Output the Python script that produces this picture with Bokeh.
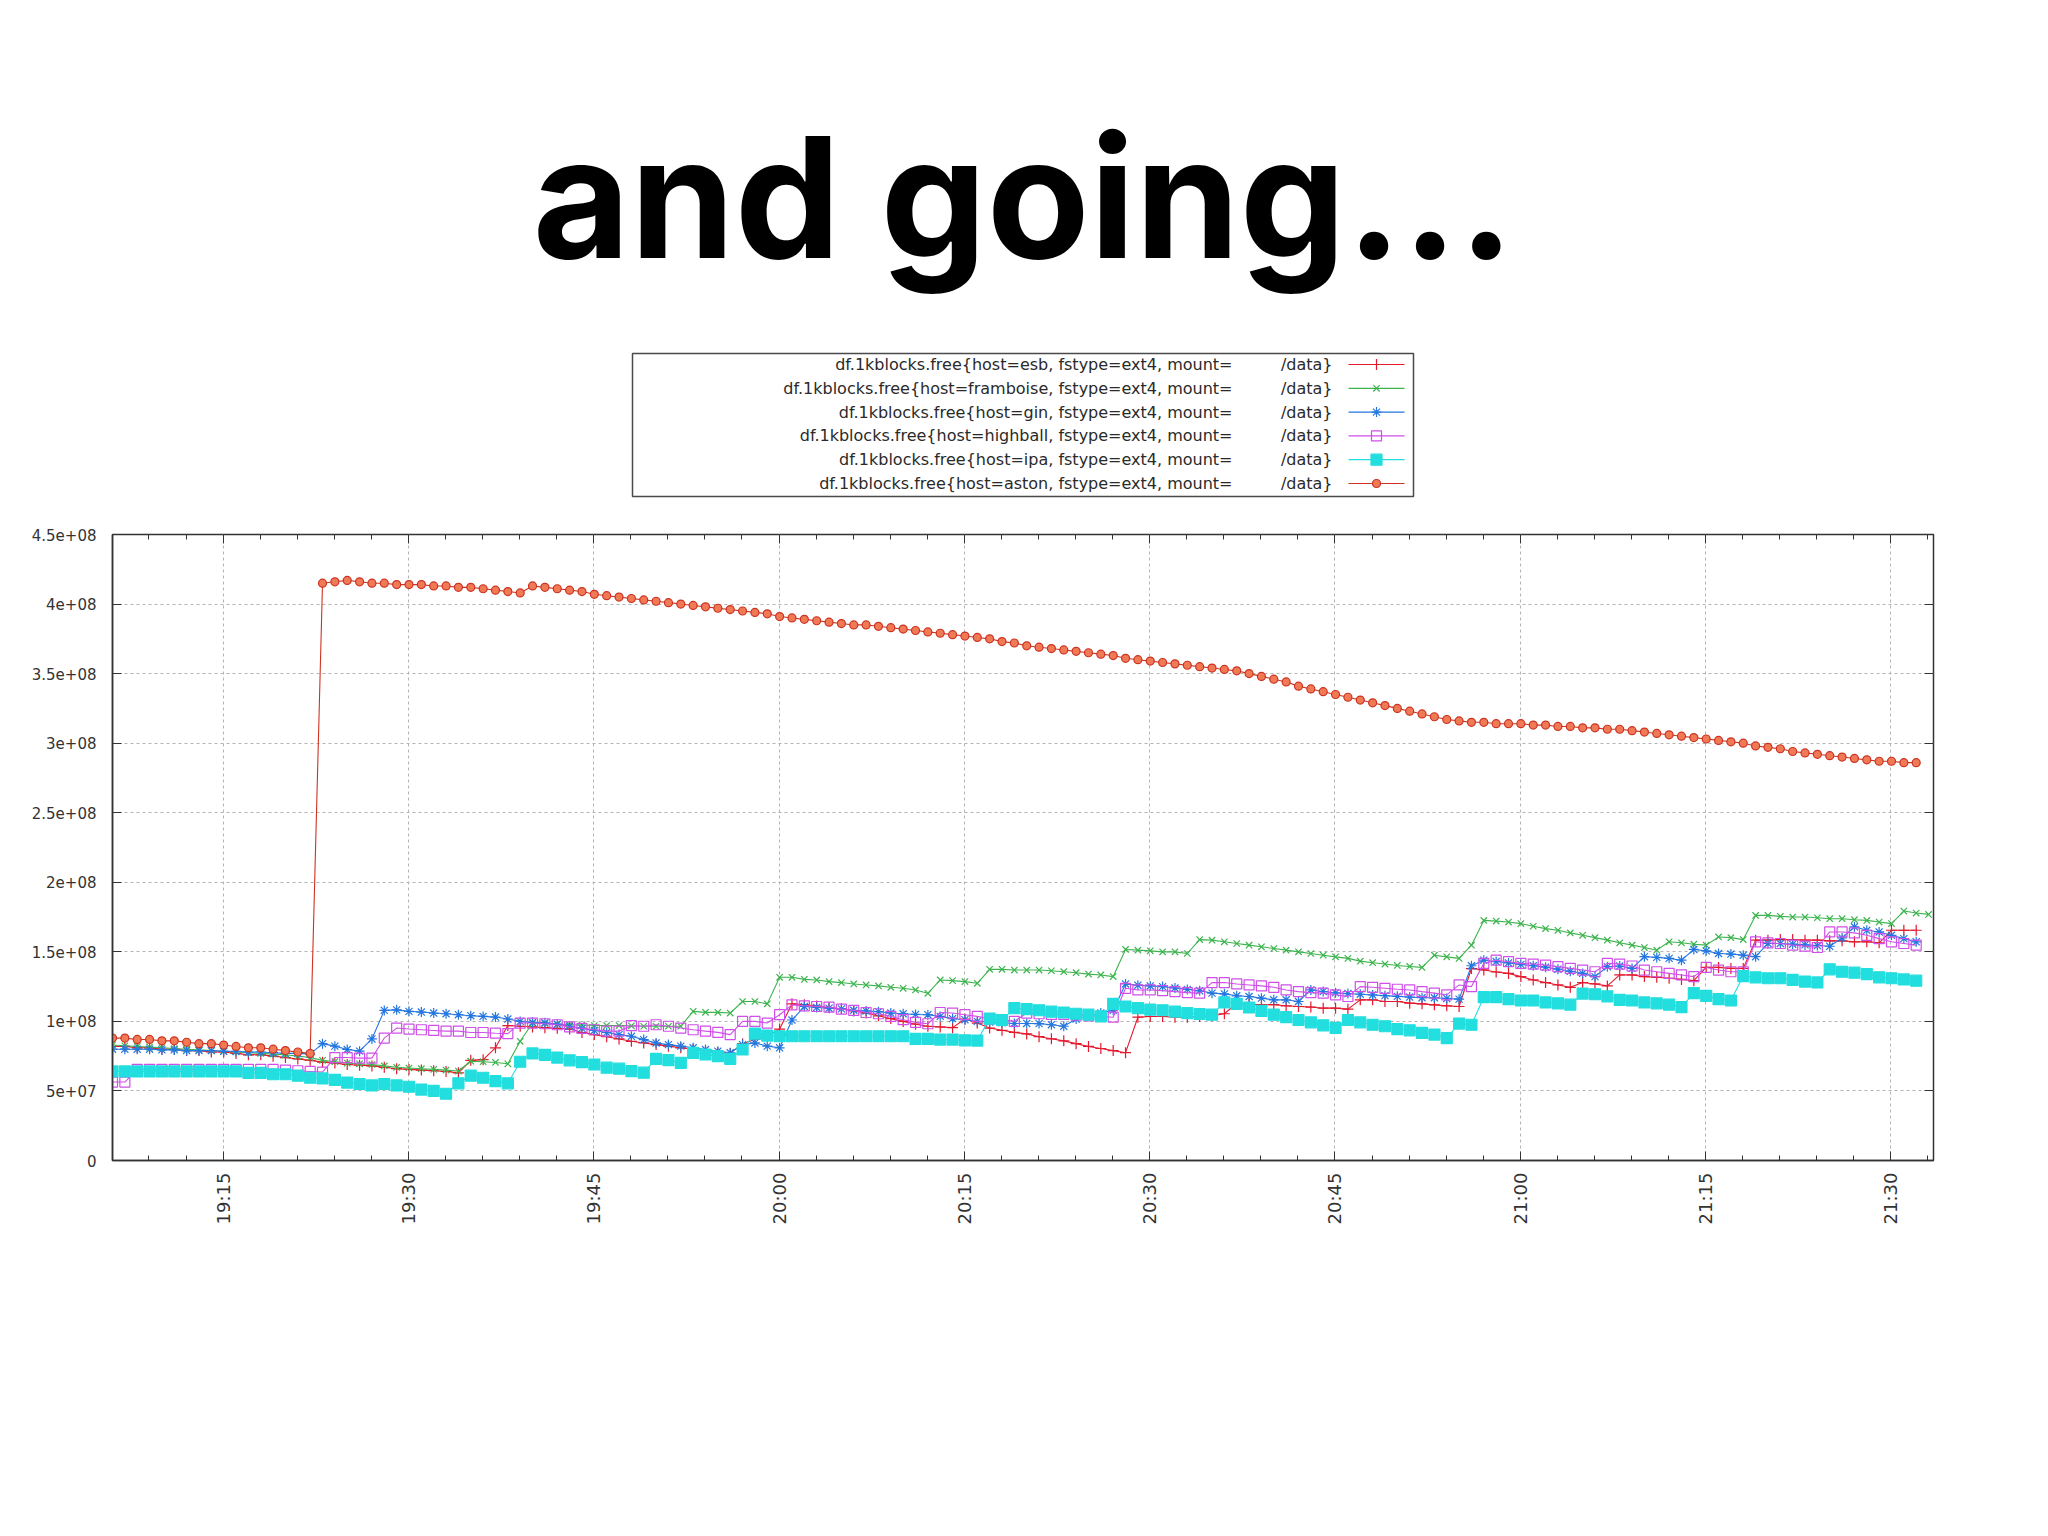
import math
import numpy as np
from bokeh.plotting import figure
from bokeh.layouts import column
from bokeh.models import Range1d, FixedTicker, LinearAxis, ColumnDataSource
from bokeh.core.properties import value
from bokeh.embed import file_html
from bokeh.resources import INLINE

# ---------------- data ----------------
TITLE = "and going..."
hosts = ["esb", "framboise", "gin", "highball", "ipa", "aston"]
label_prefix = "df.1kblocks.free{host="
label_suffix = ", fstype=ext4, mount="
label_mount = "/data}"

# first sample, minutes after 19:00; one sample per minute
t_start = 6.05
x_min, x_max = 6.05, 153.45

# values in units of 1e6 1k-blocks
esb = [82, 82, 81, 81, 80, 80, 79, 79, 78, 78, 77, 76, 76, 75, 74, 73, 72,
       70.7, 70, 69, 68.5, 68, 67, 66, 65.5, 65, 64.5, 64, 63, 72, 72.5, 81, 97, 96.5, 96, 95.5, 95,
       94.5, 92, 90.5, 89, 87.4, 85.7, 84.5, 83.3, 82.2, 81, 79.8, 78.6, 77.4, 77, 84, 87, 89.3, 94.5, 112.6, 112,
       111, 110, 109, 107.5, 106, 104, 102, 100, 98, 96.5, 96, 95.5, 101.7, 98.8, 95.2, 93.6, 92.1, 91,
       89, 87.5, 86, 84, 82, 80.5, 79, 77.5, 103, 103.5, 103.5, 103, 103, 103.5, 104, 105.5,
       113, 112.5, 112, 112, 111.2, 110.7, 110.3, 109.5, 109.5, 108.8, 115.5, 115.5, 114.3, 114.3, 113.1,
       112.6, 111.9, 111.2, 110.7, 138, 137, 135.5, 134.5, 132.2, 129.8, 127.9, 126.2, 124.5, 127.9, 126.9,
       125.5, 133.4, 133.4, 132.2, 131.7, 131, 130.2, 129.3, 138.8, 138.8, 138.1, 138.1, 158.4, 158.4, 158.8,
       158.8, 158.4, 158.4, 157.9, 157.9, 157.2, 157.2, 156.5, 165.5, 165.5, 165.5]

framboise = [83, 82.5, 82, 81.5, 81, 80.5, 80, 79.5, 79, 78.5, 78, 77.5, 77, 76.5, 76, 75, 74,
             72, 71, 70, 69.5, 69, 68, 67, 66.5, 66, 65.5, 65, 64.3,
             71.4, 71, 70.5, 69.5, 85.7, 98.8, 98.5, 98,
             97.5, 97.5, 97, 97, 97, 96.8, 96.5, 96.5, 96.5, 96.5,
             107.2, 106.5, 106.5, 106, 114.3, 114.3, 112.6,
             131.7, 131.7, 130.2, 129.8, 128.6, 127.9, 126.9, 126.2, 125.5, 124.5, 123.8, 122.6, 120.2,
             129.8, 129.3, 128.6, 127.4,
             137.4, 137.4, 136.9, 136.9, 136.9, 136.4, 135.7, 135, 134, 133.4, 132.2,
             151.7, 151.2, 150.7, 150, 150, 148.8,
             158.8, 158.4, 157.2, 156, 154.8, 153.6, 152.4, 151.2, 150, 148.8, 147.6, 146.4, 145.3, 143.3,
             142.2, 141.2, 140.2, 139.5, 138.8,
             147.6, 146.4, 145.3, 154.8,
             172.6, 172.1, 171.4, 170.3, 168.4, 166.7, 165.5, 163.6, 161.9, 160.2, 158.4, 156.5, 154.8, 153.1, 151.2,
             157.2, 156.5, 155.5, 154.8,
             160.7, 160.2, 158.8,
             176.2, 176.2, 175.5, 175, 175, 174.5, 173.8, 173.8, 173.1, 172.6, 171.4, 170.3,
             179.3, 177.9, 176.9]

gin = [80, 80, 80, 80, 79.5, 79.5, 79, 79, 79, 78.5, 78.5, 78, 78, 77.5, 77, 77, 76.5,
       84, 82.2, 79.8, 78.6, 87.4, 107.9, 108.3, 107.2, 106.7, 106, 105.5, 104.8, 104.1, 103.6, 103.1,
       101.7, 100, 99.3, 99, 98,
       96.5, 95, 93.5, 92, 90.5, 89.3, 86.9, 84.5, 83.3, 82.2, 81, 79.8, 78.6, 77.4, 83.3, 84.5, 82.2, 81,
       101, 110.7, 110, 109.5, 109, 108, 107.5, 107, 106, 105.5, 105, 104.8, 103.6, 102, 101.2, 100, 99.5,
       99, 98.5, 98.5, 98.4, 97.6, 96.5, 101.7, 104, 106, 108,
       126.9, 126, 125.5, 125, 124, 123, 122, 120.3, 119.8, 118.4, 117.9, 116.7, 115.5, 115.5, 114.3,
       122.6, 121.5, 120.5, 120, 119.5, 119, 118.5, 118, 117.5, 117, 117, 116.5, 116,
       140, 144, 143, 142, 141, 140, 139, 137.5, 136, 134.5, 132.2, 139.3, 139.8, 138.1, 146.5, 146,
       145.3, 144, 151.7, 150.7, 148.8, 148.4, 147.6, 146.5, 156, 156, 155.5, 155, 154.5, 154, 160, 168,
       165.5, 164.3, 161.9, 159.5, 157.2]

highball = [56.4, 56.4,
            65.5, 65.5, 65.5, 65.5, 65.5, 65.5, 65.5, 65.5, 65.5, 65.5, 65.5, 65.5,
            65, 64.5, 64, 63.5, 74, 74, 73.6, 73.6, 88, 95.2, 94.5, 94, 93.5, 93, 93, 92, 92, 91.5, 91.2,
            98.8, 98.8, 98.3, 97.6,
            96, 95, 94, 93, 93, 96.9, 96.5, 97.6, 96.5, 95.2, 94, 93, 92.1, 90.5, 100, 100, 98.8, 104.8,
            111.9, 111.2, 110.7, 110.2, 108.8, 107.9, 106.4, 105.5, 103.6, 101.2, 99.3, 98.3, 106.4, 106,
            104.8, 103.6, 101.7, 101.2, 100,
            106, 105.5, 105, 105, 104.5, 104, 103.5, 103,
            123.8, 122.6, 122.6, 122.1, 121.4, 120.7, 120.3, 127.9, 127.9, 126.9, 126.2, 125.5, 124.5, 122.6,
            121.4, 120.7, 120.3, 119.1, 117.9, 125, 124.5, 123.8, 123.1, 122.6, 121.4, 120.3, 119.1, 126.2, 125,
            141.7, 144, 142.9, 141.7, 141.2, 140.5, 139.3, 138.1, 136.9, 135.7, 141.7, 141.2, 139.8, 136.9,
            135.7, 134.5, 133.4, 132.2, 138.8, 136.9, 135.7, 135.7, 157.2, 156.5, 156, 154.8, 154.1, 153.1,
            164.3, 164.3, 163.6, 161.9, 159.5, 157.2, 156, 154.8]

ipa = [64, 64, 64, 64, 64, 64, 64, 64, 64, 64, 64,
       63, 63, 62, 62, 61, 59.5, 59, 58, 56, 55, 54, 55, 54, 53, 51, 50, 48, 55.5, 61, 59.5, 57, 55.5,
       71, 77, 76, 74, 72,
       70.7, 69, 66.7, 66, 64.3, 63.1, 73.1, 72.2, 70.2, 77.4, 76.2, 75, 73.1, 79.8, 91.2, 89.8,
       89.3, 89.3, 89.3, 89.3, 89.3, 89.3, 89.3, 89.3, 89.3, 89.3, 89.3,
       87.4, 87.4, 86.9, 86.9, 86.4, 86.2, 102, 101, 109.5,
       108.8, 108, 107, 106.4, 105.5, 104.8, 103.6, 112.6, 110.7, 109.5, 108.4, 108, 107, 106, 105.3,
       104.8, 113.6, 112.6, 110, 107.6, 104.8, 103, 101, 99.3, 97.2, 95.3, 101, 99.3, 97.6, 96.5, 94.5,
       93.6, 91.7, 90.5, 88, 98.4, 97.6,
       117.4, 117.4, 116, 115, 115, 113.6, 113, 112, 120, 119.5, 118, 115.5, 115, 113.6, 113, 112, 110.3,
       120.3, 118.4, 116, 115, 132.6, 131.7, 131, 131, 129.8, 128.6, 128, 137.4, 135.7, 135, 134, 131.7,
       131, 130.2, 129.3]

aston = [88, 88, 87, 87, 86, 86, 85, 84, 84, 83, 82, 81, 81, 80, 79, 78, 77,
         415, 416, 417, 416, 415, 415, 414, 414, 414, 413, 413, 412, 412, 411, 410, 409, 408,
         413, 412, 411, 410, 409, 407, 406, 405, 404, 403, 402, 401, 400, 399, 398, 397, 396, 395, 394, 393,
         391, 390, 389, 388, 387, 386, 385, 385, 384, 383, 382, 381, 380, 379, 378, 377, 376, 375, 373, 372,
         370, 369, 368, 367, 366, 365, 364, 363, 361, 360, 359, 358, 357, 356, 355, 354, 353, 352, 350, 348,
         346, 344, 341, 339, 337, 335, 333, 331, 329, 327, 325, 323, 321, 319, 317, 316, 315, 315, 314, 314,
         314, 313, 313, 312, 312, 311, 311, 310, 310, 309, 308, 307, 306, 305, 304, 303, 302, 301, 300, 298,
         297, 296, 294, 293, 292, 291, 290, 289, 288, 287, 287, 286, 286]

series = [esb, framboise, gin, highball, ipa, aston]

x_tick_pos = [15, 30, 45, 60, 75, 90, 105, 120, 135, 150]
x_tick_labels = ["19:15", "19:30", "19:45", "20:00", "20:15", "20:30", "20:45", "21:00", "21:15", "21:30"]
x_minor_pos = [6, 9, 12, 18, 21, 24, 27, 33, 36, 39, 42, 48, 51, 54, 57, 63, 66, 69, 72, 78, 81, 84, 87,
               93, 96, 99, 102, 108, 111, 114, 117, 123, 126, 129, 132, 138, 141, 144, 147, 153]
y_ticks = [0, 5e7, 1e8, 1.5e8, 2e8, 2.5e8, 3e8, 3.5e8, 4e8, 4.5e8]
y_tick_labels = ["0", "5e+07", "1e+08", "1.5e+08", "2e+08", "2.5e+08", "3e+08", "3.5e+08", "4e+08", "4.5e+08"]

# ---------------- styles ----------------
colors = ["#e3192e", "#3cb44e", "#2577e0", "#cf4fe8", "#22dede", "#cc3322"]
markers = ["cross", "x", "asterisk", "square", "square", "circle"]
msizes = [11, 9, 10, 10, 11, 8]
fills = [None, None, None, None, "#22dede", "#f07a55"]

W = 2048
HDR_H = 510
MAIN_H = 1020
B_LEFT, B_RIGHT = 112, 115          # frame spans x 112 .. 1933

# ---------------- header: title + legend (data units = canvas pixels) ----------------
hdr = figure(width=W, height=HDR_H, x_range=Range1d(B_LEFT, W - B_RIGHT), y_range=Range1d(HDR_H, 0),
             toolbar_location=None, output_backend="svg",
             min_border_left=B_LEFT, min_border_right=B_RIGHT, min_border_top=0, min_border_bottom=0,
             x_axis_location=None, y_axis_location=None)
hdr.grid.visible = False
hdr.outline_line_color = None
hdr.background_fill_color = "white"
hdr.border_fill_color = "white"

hdr.text(x=[1023], y=[196], text=[TITLE], text_font=value("Inter"), text_font_size="168px",
         text_font_style="bold", text_align="center", text_baseline="middle", text_color="#000000")

# legend box
hdr.quad(left=[632], right=[1413], top=[353], bottom=[496],
         fill_color="white", line_color="#4a4a4a", line_width=1.5)
row0, pitch = 364, 23.8
for i, h in enumerate(hosts):
    yy = row0 + pitch * i
    hdr.text(x=[1232], y=[yy], text=[label_prefix + h + label_suffix], text_font=value("DejaVu Sans"),
             text_font_size="16px", text_align="right", text_baseline="middle", text_color="#2a2a2a")
    hdr.text(x=[1332], y=[yy], text=[label_mount], text_font=value("DejaVu Sans"),
             text_font_size="16px", text_align="right", text_baseline="middle", text_color="#2a2a2a")
    hdr.segment(x0=[1348], y0=[yy], x1=[1404], y1=[yy], line_color=colors[i], line_width=1.2)
    hdr.scatter(x=[1376], y=[yy], marker=markers[i], size=msizes[i], line_color=colors[i],
                fill_color=fills[i], line_width=1.2)

# ---------------- main chart ----------------
p = figure(width=W, height=MAIN_H, x_range=Range1d(x_min, x_max), y_range=Range1d(0, 4.5e8),
           toolbar_location=None, output_backend="svg",
           min_border_left=B_LEFT, min_border_right=B_RIGHT, min_border_top=24, min_border_bottom=370)
p.background_fill_color = "white"
p.border_fill_color = "white"
p.outline_line_color = "#333333"
p.outline_line_width = 1.5

xt = FixedTicker(ticks=x_tick_pos, minor_ticks=x_minor_pos)
yt = FixedTicker(ticks=y_ticks, minor_ticks=[])

ax = p.xaxis[0]
ax.ticker = xt
ax.major_label_overrides = {t: s for t, s in zip(x_tick_pos, x_tick_labels)}
ax.major_label_orientation = math.pi / 2

ay = p.yaxis[0]
ay.ticker = yt
ay.major_label_overrides = {t: s for t, s in zip(y_ticks, y_tick_labels)}

for a in (ax, ay):
    a.axis_line_color = "#333333"
    a.axis_line_width = 1.5
    a.major_tick_in = 9
    a.major_tick_out = 0
    a.minor_tick_in = 5
    a.minor_tick_out = 0
    a.major_tick_line_color = "#333333"
    a.minor_tick_line_color = "#333333"
    a.major_label_text_font = "DejaVu Sans"
    a.major_label_text_color = "#333333"
ax.major_label_text_font_size = "18px"
ay.major_label_text_font_size = "15px"
ay.minor_tick_line_color = None
ax.major_label_standoff = 12
ay.major_label_standoff = 16

top = LinearAxis(ticker=xt, major_tick_in=9, major_tick_out=0, minor_tick_in=5, minor_tick_out=0,
                 major_tick_line_color="#333333", minor_tick_line_color="#333333",
                 axis_line_color=None, major_label_text_color=None, major_label_text_font_size="1px",
                 major_label_standoff=0)
p.add_layout(top, "above")
right = LinearAxis(ticker=yt, major_tick_in=9, major_tick_out=0, minor_tick_line_color=None,
                   major_tick_line_color="#333333", axis_line_color=None,
                   major_label_text_color=None, major_label_text_font_size="1px", major_label_standoff=0)
p.add_layout(right, "right")

p.xgrid.ticker = xt
p.ygrid.ticker = yt
for g in (p.xgrid, p.ygrid):
    g.grid_line_color = "#b4b4b4"
    g.grid_line_dash = "3 3"
    g.grid_line_width = 1

for vals, c, m, s, f in zip(series, colors, markers, msizes, fills):
    xs = t_start + np.arange(len(vals))
    src = ColumnDataSource(dict(x=xs, y=np.array(vals, dtype=float) * 1e6))
    p.line("x", "y", source=src, line_color=c, line_width=1.1)
    p.scatter("x", "y", source=src, marker=m, size=s, line_color=c, fill_color=f, line_width=1.2)

layout = column(hdr, p, spacing=0)
open("out.html", "w").write(file_html(layout, INLINE))
